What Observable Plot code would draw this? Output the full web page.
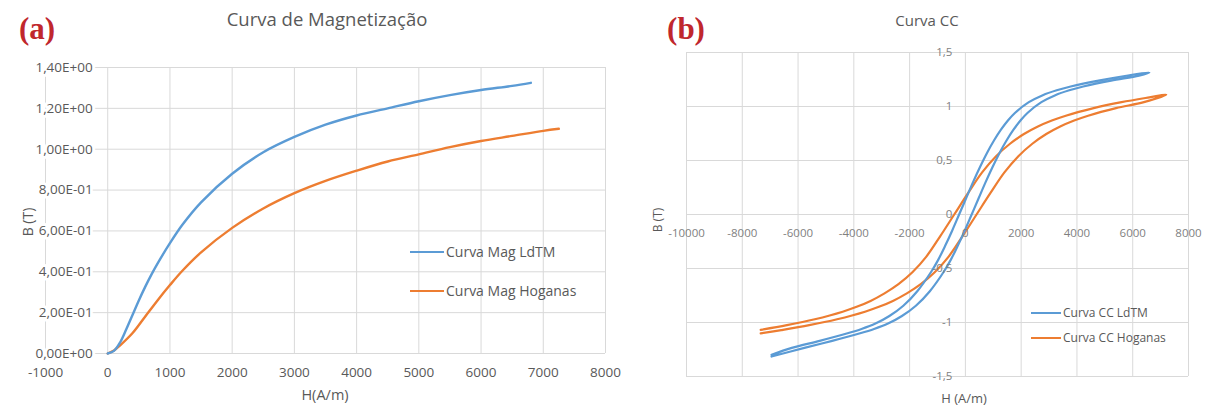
<!DOCTYPE html>
<html><head><meta charset="utf-8">
<script src="https://cdn.jsdelivr.net/npm/d3@7"></script>
<script src="https://cdn.jsdelivr.net/npm/@observablehq/plot@0.6"></script>
<style>
body{margin:0;background:#fff;}
#wrap{position:relative;width:1212px;height:407px;overflow:hidden;font-family:"Open Sans",sans-serif;background:#fff;}
.abs{position:absolute;white-space:nowrap;line-height:1;}
.c{transform:translate(-50%,-50%);}
.panel{position:absolute;top:0;overflow:visible;}
</style></head><body><div id="wrap"></div>
<script>
// ---- Panel (a): Curva de Magnetização ----
const magH_LdTM = [0,100,200,300,400,500,600,700,800,1000,1200,1500,2000,2500,3000,3500,4000,4500,5000,5500,6000,6500,6800];
const magB_LdTM = [0,0.013,0.055,0.12,0.19,0.26,0.325,0.385,0.44,0.54,0.63,0.74,0.88,0.985,1.06,1.12,1.165,1.2,1.235,1.265,1.29,1.31,1.325];
const magH_Hog = [0,100,200,400,600,800,1000,1200,1500,2000,2500,3000,3500,4000,4500,5000,5500,6000,6500,7000,7250];
const magB_Hog = [0,0.015,0.04,0.1,0.18,0.26,0.335,0.405,0.495,0.615,0.71,0.785,0.845,0.895,0.94,0.975,1.01,1.04,1.065,1.09,1.10];
const xTicksA = [-1000,0,1000,2000,3000,4000,5000,6000,7000,8000];
const yTicksA = [0,0.2,0.4,0.6,0.8,1.0,1.2,1.4];
const yLabelsA = ["0,00E+00","2,00E-01","4,00E-01","6,00E-01","8,00E-01","1,00E+00","1,20E+00","1,40E+00"];

// ---- Panel (b): Curva CC (hysteresis loops: ascending branch, then descending branch) ----
const ccH_LdTM = [-6950,-5775,-4775,-3775,-3275,-2775,-2275,-1775,-1275,-775,-525,-275,-25,225,475,725,975,1225,1475,1725,1975,2225,2725,3225,3725,4225,5225,6225,6600,
                  5775,4775,3775,3275,2775,2275,1775,1525,1275,1025,775,525,275,25,-225,-475,-725,-975,-1225,-1725,-2225,-2725,-3225,-3725,-4225,-5225,-6225,-6950];
const ccB_LdTM = [-1.315,-1.235,-1.17,-1.10,-1.06,-1.01,-0.94,-0.845,-0.71,-0.53,-0.42,-0.29,-0.15,0,0.15,0.30,0.44,0.57,0.685,0.785,0.87,0.94,1.04,1.105,1.15,1.185,1.24,1.285,1.315,
                  1.285,1.24,1.185,1.15,1.105,1.04,0.94,0.87,0.785,0.685,0.57,0.44,0.30,0.15,0,-0.15,-0.29,-0.42,-0.53,-0.71,-0.845,-0.94,-1.01,-1.06,-1.10,-1.17,-1.235,-1.30];
const ccH_Hog = [-7340,-6600,-5600,-4600,-3600,-3100,-2600,-2100,-1600,-1100,-600,-100,400,900,1400,1900,2400,2900,3400,3900,4400,5400,6400,7200,
                 6600,5600,4600,3600,3100,2600,2100,1600,1100,600,100,-400,-900,-1400,-1900,-2400,-2900,-3400,-3900,-4400,-5400,-6400,-7340];
const ccB_Hog = [-1.10,-1.07,-1.025,-0.97,-0.90,-0.855,-0.80,-0.73,-0.645,-0.535,-0.39,-0.2,0,0.2,0.39,0.54,0.655,0.745,0.815,0.87,0.915,0.985,1.04,1.11,
                 1.085,1.04,0.985,0.915,0.87,0.815,0.745,0.655,0.54,0.39,0.2,0,-0.2,-0.39,-0.535,-0.645,-0.73,-0.80,-0.855,-0.90,-0.97,-1.025,-1.068];
const xTicksB = [-10000,-8000,-6000,-4000,-2000,0,2000,4000,6000,8000];
const yTicksB = [-1.5,-1,-0.5,0,0.5,1,1.5];
const yLabelsB = ["-1,5","-1","-0,5","0","0,5","1","1,5"];

const BLUE = "#5b9bd5", ORANGE = "#ed7d31", GRID = "#d9d9d9";
const zip = (hs, bs) => hs.map((h, i) => ({H: h, B: bs[i]}));

const wrap = document.getElementById("wrap");

const plotA = Plot.plot({
  width: 606, height: 407, margin: 0,
  style: {background: "transparent", fontFamily: "Open Sans, sans-serif", overflow: "visible"},
  x: {domain: [-1000, 8000], range: [45, 605], axis: null},
  y: {domain: [0, 1.4], range: [353, 67], axis: null},
  marks: [
    Plot.ruleX(xTicksA, {x: d => d, y1: 0, y2: 1.4, stroke: GRID, strokeWidth: 1}),
    Plot.ruleY(yTicksA, {y: d => d, x1: -1000, x2: 8000, stroke: GRID, strokeWidth: 1}),
    Plot.line(zip(magH_Hog, magB_Hog), {x: "H", y: "B", stroke: ORANGE, strokeWidth: 2.4, curve: "catmull-rom"}),
    Plot.line(zip(magH_LdTM, magB_LdTM), {x: "H", y: "B", stroke: BLUE, strokeWidth: 2.4, curve: "catmull-rom"}),
    Plot.text(yTicksA, {x: () => 0, y: d => d, text: (d, i) => yLabelsA[i], textAnchor: "end", dx: -15,
      fill: "#595959", fontSize: 13.5, stroke: "white", strokeWidth: 6, paintOrder: "stroke"}),
    Plot.text(xTicksA, {x: d => d, y: () => 0, text: d => String(d), dy: 19, fill: "#595959", fontSize: 13.5})
  ]
});
plotA.classList.add("panel");
plotA.style.left = "0px";
wrap.appendChild(plotA);

const plotB = Plot.plot({
  width: 606, height: 407, margin: 0,
  style: {background: "transparent", fontFamily: "Open Sans, sans-serif", overflow: "visible"},
  x: {domain: [-10000, 8000], range: [80, 582], axis: null},
  y: {domain: [-1.5, 1.5], range: [376, 52], axis: null},
  marks: [
    Plot.ruleX(xTicksB, {x: d => d, y1: -1.5, y2: 1.5, stroke: GRID, strokeWidth: 1}),
    Plot.ruleY(yTicksB, {y: d => d, x1: -10000, x2: 8000, stroke: GRID, strokeWidth: 1}),
    Plot.line(zip(ccH_Hog, ccB_Hog), {x: "H", y: "B", stroke: ORANGE, strokeWidth: 2.2, curve: "catmull-rom"}),
    Plot.line(zip(ccH_LdTM, ccB_LdTM), {x: "H", y: "B", stroke: BLUE, strokeWidth: 2.2, curve: "catmull-rom"}),
    Plot.text(yTicksB, {x: () => 0, y: d => d, text: (d, i) => yLabelsB[i], textAnchor: "end", dx: -13,
      fill: "#7f7f7f", fontSize: 11.5}),
    Plot.text(xTicksB, {x: d => d, y: () => 0, text: d => String(d), dy: 19, fill: "#7f7f7f", fontSize: 11.5})
  ]
});
plotB.classList.add("panel");
plotB.style.left = "606px";
wrap.appendChild(plotB);

function label(txt, x, y, css) {
  const d = document.createElement("div");
  d.className = "abs c";
  d.textContent = txt;
  d.style.left = x + "px"; d.style.top = y + "px";
  Object.assign(d.style, css || {});
  wrap.appendChild(d);
  return d;
}
function legend(txt, color, x, y, len, fs) {
  const l = document.createElement("div");
  l.className = "abs";
  Object.assign(l.style, {left: x + "px", top: (y - 1.2) + "px", width: len + "px", height: "2.5px", background: color});
  wrap.appendChild(l);
  const t = document.createElement("div");
  t.className = "abs";
  t.textContent = txt;
  Object.assign(t.style, {left: (x + len + 2) + "px", top: y + "px", transform: "translateY(-50%)", fontSize: fs + "px", color: "#595959"});
  wrap.appendChild(t);
}
const serifRed = {fontFamily: "'Liberation Serif', 'Times New Roman', serif", fontWeight: "bold", color: "#c0272d", fontSize: "31px"};
label("(a)", 37, 28, serifRed);
label("(b)", 686, 28, serifRed);
label("Curva de Magnetização", 327, 19, {fontSize: "18.5px", color: "#595959"});
label("Curva CC", 927, 20, {fontSize: "15px", color: "#595959"});
label("B (T)", 28, 222, {fontSize: "14px", color: "#595959", transform: "translate(-50%,-50%) rotate(-90deg)"});
label("H(A/m)", 325, 395, {fontSize: "14.5px", color: "#595959"});
label("B (T)", 658, 220, {fontSize: "12px", color: "#595959", transform: "translate(-50%,-50%) rotate(-90deg)"});
label("H (A/m)", 964, 398, {fontSize: "13px", color: "#595959"});
legend("Curva Mag LdTM", BLUE, 410, 252, 34, 14);
legend("Curva Mag Hoganas", ORANGE, 410, 291, 34, 14);
legend("Curva CC LdTM", BLUE, 1031, 313, 30, 12);
legend("Curva CC Hoganas", ORANGE, 1031, 338, 30, 12);
</script></body></html>
